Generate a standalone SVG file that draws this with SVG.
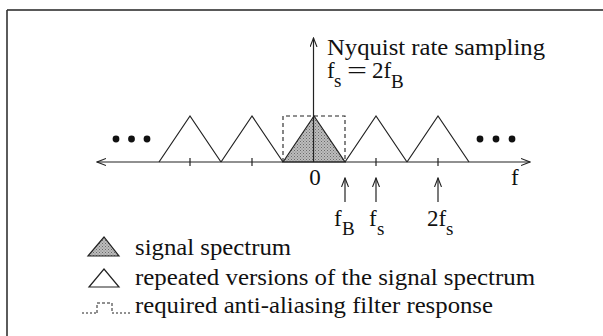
<svg xmlns="http://www.w3.org/2000/svg" width="603" height="336" viewBox="0 0 603 336">
<style>
.t{font-family:"Liberation Serif","Times New Roman",serif;font-size:23px;fill:#111}
.s{font-family:"Liberation Serif","Times New Roman",serif;font-size:19px;fill:#111}
.tri{fill:none;stroke:#222;stroke-width:1.2;stroke-linejoin:miter}
.shade{fill:url(#stip);stroke:#222;stroke-width:1.2}
.ln{stroke:#222;stroke-width:1.2;fill:none}
.dash{stroke:#222;stroke-width:1.1;fill:none;stroke-dasharray:4 3}
.dot{fill:#111}
</style>
<defs>
<pattern id="stip" width="3" height="3" patternUnits="userSpaceOnUse">
<rect width="3" height="3" fill="#bdbdbd"/>
<rect x="0" y="0" width="1" height="1" fill="#6a6a6a"/>
<rect x="1.5" y="1.5" width="1" height="1" fill="#7a7a7a"/>
</pattern>
<marker id="ah" viewBox="0 0 10 8" refX="9" refY="4" markerWidth="10" markerHeight="8" markerUnits="userSpaceOnUse" orient="auto-start-reverse">
<path d="M0,0.5 L9,4 L0,7.5" fill="none" stroke="#222" stroke-width="1.1"/>
</marker>
</defs>

<g id="frame">
<line x1="7" y1="10" x2="603" y2="10" stroke="#222" stroke-width="1.6"/>
<line x1="7" y1="10" x2="7" y2="336" stroke="#333" stroke-width="1.6"/>
</g>

<g id="spectrum-signal">
<polygon class="shade" points="283,162 314,116 345,162"/>
</g>
<g id="spectrum-rep-m2"><polyline class="tri" points="159,162 190,116 221,162"/></g>
<g id="spectrum-rep-m1"><polyline class="tri" points="221,162 252,116 283,162"/></g>
<g id="spectrum-rep-p1"><polyline class="tri" points="345,162 376,116 407,162"/></g>
<g id="spectrum-rep-p2"><polyline class="tri" points="407,162 438,116 469,162"/></g>

<g id="filter-response">
<path class="dash" d="M283,162 L283,116 L345,116 L345,162"/>
</g>

<g id="ellipsis-left">
<circle class="dot" cx="116" cy="139" r="3.4"/>
<circle class="dot" cx="131.5" cy="139" r="3.4"/>
<circle class="dot" cx="147" cy="139" r="3.4"/>
</g>
<g id="ellipsis-right">
<circle class="dot" cx="480" cy="139" r="3.4"/>
<circle class="dot" cx="496" cy="139" r="3.4"/>
<circle class="dot" cx="512" cy="139" r="3.4"/>
</g>

<g id="connectors">
<line class="ln" x1="97" y1="162" x2="530" y2="162" marker-start="url(#ah)" marker-end="url(#ah)"/>
<line class="ln" x1="190" y1="158" x2="190" y2="166"/>
<line class="ln" x1="252" y1="158" x2="252" y2="166"/>
<line class="ln" x1="376" y1="158" x2="376" y2="166"/>
<line class="ln" x1="438" y1="158" x2="438" y2="166"/>
<line class="ln" x1="313.5" y1="162" x2="313.5" y2="38" marker-end="url(#ah)"/>
<line class="ln" x1="345" y1="202" x2="345" y2="178" marker-end="url(#ah)"/>
<line class="ln" x1="376" y1="202" x2="376" y2="178" marker-end="url(#ah)"/>
<line class="ln" x1="438" y1="202" x2="438" y2="178" marker-end="url(#ah)"/>
</g>

<g id="title">
<text class="t" x="327" y="55" textLength="218" lengthAdjust="spacingAndGlyphs">Nyquist rate sampling</text>
<text class="t" x="327" y="78">f</text>
<text class="s" x="334" y="87">s</text>
<text class="t" x="347" y="78" textLength="20" lengthAdjust="spacingAndGlyphs">=</text>
<text class="t" x="372" y="78">2f</text>
<text class="s" x="391" y="88">B</text>
</g>

<g id="axis-labels">
<text class="t" x="315" y="185" text-anchor="middle">0</text>
<text class="t" x="511" y="185">f</text>
<text class="t" x="334" y="226">f</text>
<text class="s" x="342" y="235">B</text>
<text class="t" x="369" y="226">f</text>
<text class="s" x="377" y="235">s</text>
<text class="t" x="427" y="226">2f</text>
<text class="s" x="446" y="235">s</text>
</g>

<g id="legend-signal">
<polygon class="shade" points="88,256 104,237 119,256"/>
<text class="t" x="135" y="255" textLength="156" lengthAdjust="spacingAndGlyphs">signal spectrum</text>
</g>
<g id="legend-repeated">
<polygon class="tri" points="89,287 104,269 119,287"/>
<text class="t" x="135" y="285" textLength="400" lengthAdjust="spacingAndGlyphs">repeated versions of the signal spectrum</text>
</g>
<g id="legend-filter">
<path d="M82,313 L97,313 M112,313 L131,313" stroke="#222" stroke-width="1" stroke-dasharray="2 2" fill="none"/>
<path d="M97,313 L97,303 L112,303 L112,313" stroke="#222" stroke-width="1" stroke-dasharray="3 2" fill="none"/>
<text class="t" x="135" y="313" textLength="358" lengthAdjust="spacingAndGlyphs">required anti-aliasing filter response</text>
</g>
</svg>
